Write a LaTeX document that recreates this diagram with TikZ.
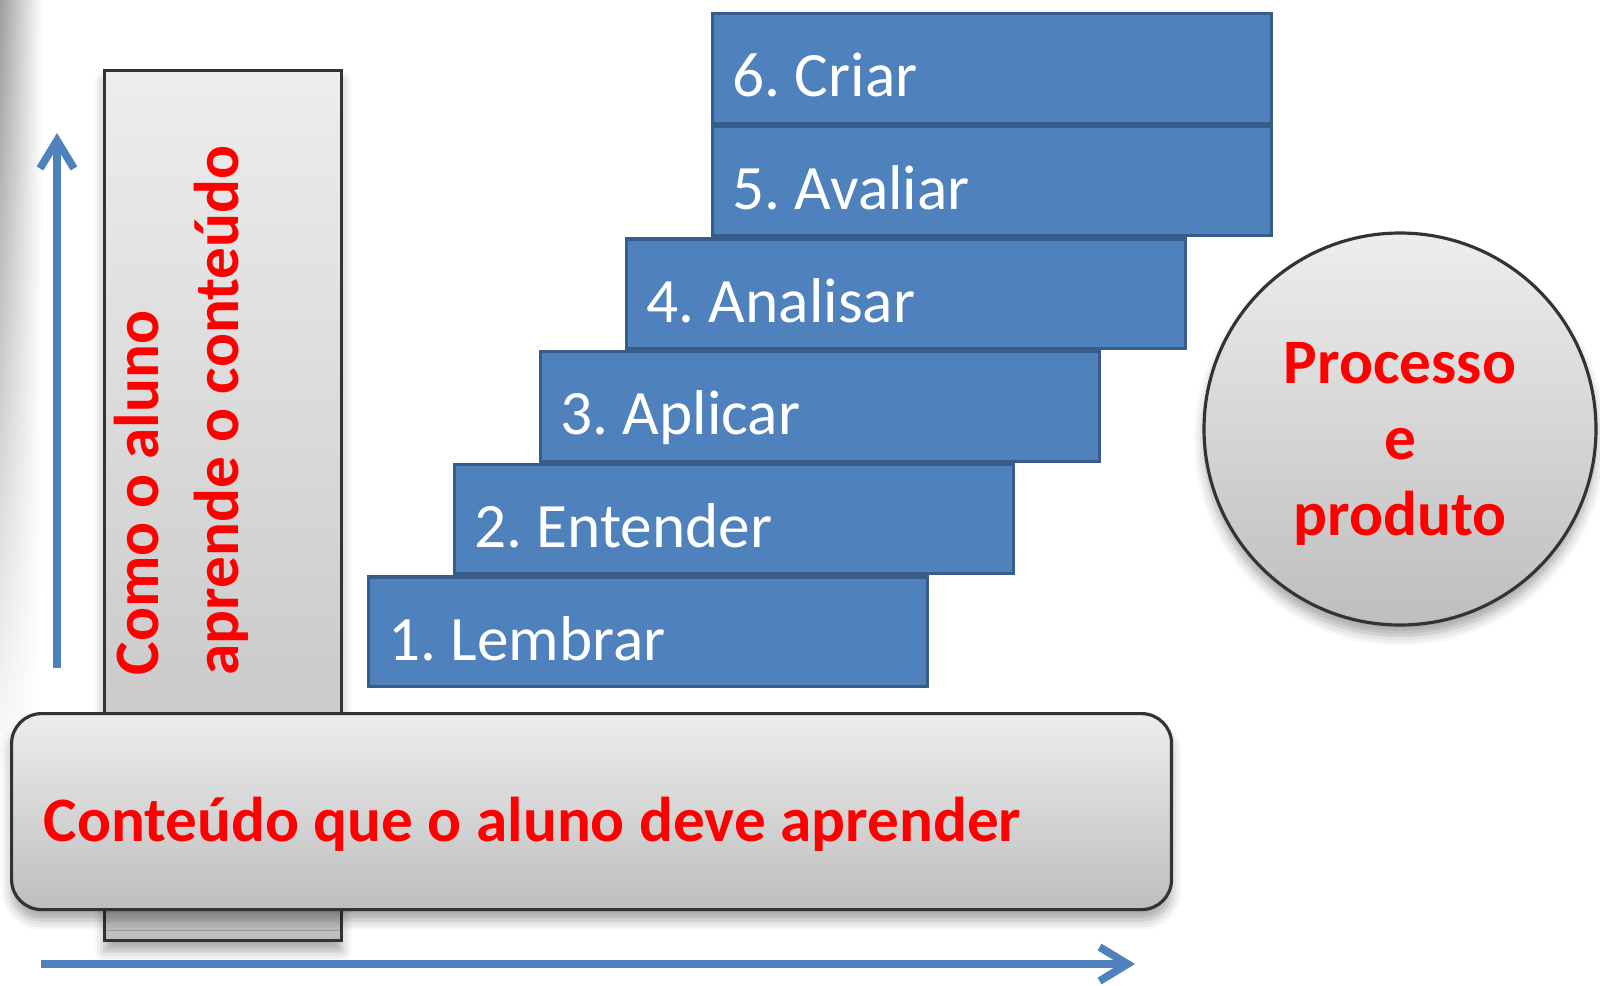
\documentclass[tikz,border=0pt]{standalone}
\usepackage{fontspec}
\setmainfont{Carlito}
\usepackage{tikz}
\usetikzlibrary{arrows.meta,calc,positioning,shadows.blur,fadings}
\definecolor{stepblue}{RGB}{79,129,189}
\definecolor{stepborder}{RGB}{56,93,138}
\definecolor{graytop}{RGB}{237,237,237}
\definecolor{graybot}{RGB}{190,190,190}
\tikzfading[name=stripfade,top color=transparent!0,middle color=transparent!0,bottom color=transparent!100]

\begin{document}
\frenchspacing
\begin{tikzpicture}[x=0.1mm,y=-0.1mm,
  stepbox/.style={draw=stepborder,line width=0.9pt,fill=stepblue,text=white,anchor=south west,
    minimum width=5.59cm,minimum height=1.095cm,text width=5.19cm,inner xsep=0.2cm,align=flush left,
    text height=6.2mm,text depth=0.5mm,font=\fontsize{18}{22}\selectfont},
  graybox/.style={draw=black!80,line width=0.9pt,top color=graytop,bottom color=graybot},
  softshadow/.style={blur shadow={shadow xshift=0pt,shadow yshift=-3pt,shadow blur radius=3pt,shadow opacity=35}},
  redtext/.style={text=red,font=\fontsize{18}{22.8}\selectfont\bfseries},
  axis/.style={draw=stepblue,line width=2.2pt,-{Straight Barb[length=2.8mm,width=3.4mm]}}]
\useasboundingbox (0,0) rectangle (1600,985);
% shadow strip on the left edge
\shade[left color=black!38,right color=white,path fading=stripfade] (0,0) rectangle (42,790);
% vertical bar
\node[graybox,softshadow,anchor=north west,minimum width=2.37cm,minimum height=8.7cm] (bar) at (103,69) {};
\node[redtext,rotate=90,anchor=north west,align=flush left,inner sep=0] (como) at (113,676) {Como o aluno\\aprende o conteúdo};
% steps
\node[stepbox] (lembrar) at (367,688) {1. Lembrar};
\node[stepbox] (entender) at ($(lembrar.north west)+(86,0)$) {2. Entender};
\node[stepbox] (aplicar) at ($(entender.north west)+(86,0)$) {3. Aplicar};
\node[stepbox] (analisar) at ($(aplicar.north west)+(86,0)$) {4. Analisar};
\node[stepbox] (avaliar) at ($(analisar.north west)+(86,0)$) {5. Avaliar};
\node[stepbox] (criar) at (avaliar.north west) {6. Criar};
% content box
\node[graybox,softshadow,rounded corners=3mm,anchor=north west,minimum width=11.6cm,minimum height=1.96cm] (conteudo) at (10,712) {};
\node[redtext,anchor=base west,inner sep=0] (conteudolbl) at ($(conteudo.south west)+(33,-70)$) {Conteúdo que o aluno deve aprender};
% circle
\node[graybox,softshadow,circle,minimum size=3.92cm] (processo) at (1400,429) {};
\node[text=red,align=center,font=\fontsize{18}{21.6}\selectfont\bfseries] (processolbl) at ($(processo.center)+(0,15)$) {Processo\\e\\produto};
% axes
\coordinate (upstart) at (57,668);
\coordinate (uptip) at (57,133);
\coordinate (rightstart) at (41,964);
\coordinate (righttip) at (1135,964);
\draw[axis] (upstart) -- (uptip);
\draw[axis] (rightstart) -- (righttip);
\end{tikzpicture}
\end{document}
